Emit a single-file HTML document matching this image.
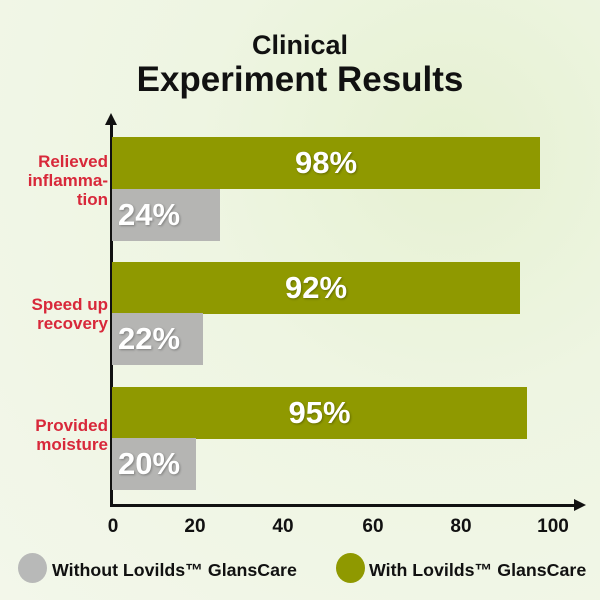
<!DOCTYPE html>
<html><head><style>
body{margin:0;width:600px;height:600px;overflow:hidden;background:radial-gradient(circle at 75% 25%,#e6f1d2 0%,#eef5e2 40%,#f3f7ea 100%);font-family:"Liberation Sans",sans-serif;position:relative}
.a{position:absolute}
.t{left:0;width:600px;text-align:center;font-weight:bold;color:#111}
.bar{position:absolute;left:112px;height:52px;color:#fff;font-weight:bold;font-size:31px;line-height:52px;text-shadow:1px 1px 2px rgba(0,0,0,.3)}
.g{background:#8f9900;text-align:center}
.s{background:#b5b5b3;padding-left:6px;box-sizing:border-box}
.lab{position:absolute;right:492px;text-align:right;color:#d8283a;font-weight:bold;font-size:17px;line-height:19px}
.tk{position:absolute;top:516px;font-weight:bold;font-size:19px;color:#111;transform:translateX(-50%)}
.leg{position:absolute;top:560px;font-weight:bold;font-size:17.8px;color:#111;white-space:nowrap}
.dot{position:absolute;top:553px;width:29px;height:30px;border-radius:50%}
</style></head><body>
<div class="a t" style="top:30px;font-size:27px">Clinical</div>
<div class="a t" style="top:60px;font-size:35px">Experiment Results</div>
<div class="a" style="left:110px;top:124px;width:2.5px;height:382px;background:#111"></div>
<div class="a" style="left:105px;top:113px;width:0;height:0;border-left:6px solid transparent;border-right:6px solid transparent;border-bottom:12px solid #111"></div>
<div class="a" style="left:110px;top:504px;width:468px;height:2.5px;background:#111"></div>
<div class="a" style="left:574px;top:499px;width:0;height:0;border-top:6px solid transparent;border-bottom:6px solid transparent;border-left:12px solid #111"></div>
<div class="bar g" style="top:137px;width:428px">98%</div>
<div class="bar s" style="top:189px;width:108px">24%</div>
<div class="bar g" style="top:262px;width:408px">92%</div>
<div class="bar s" style="top:313px;width:91px">22%</div>
<div class="bar g" style="top:387px;width:415px">95%</div>
<div class="bar s" style="top:438px;width:84px">20%</div>
<div class="lab" style="top:152px">Relieved<br>inflamma-<br>tion</div>
<div class="lab" style="top:295px">Speed up<br>recovery</div>
<div class="lab" style="top:416px">Provided<br>moisture</div>
<div class="tk" style="left:113px">0</div>
<div class="tk" style="left:195px">20</div>
<div class="tk" style="left:283px">40</div>
<div class="tk" style="left:373px">60</div>
<div class="tk" style="left:461px">80</div>
<div class="tk" style="left:553px">100</div>
<div class="dot" style="left:18px;background:#b8b9b8"></div>
<div class="leg" style="left:52px">Without Lovilds™ GlansCare</div>
<div class="dot" style="left:336px;background:#8f9900"></div>
<div class="leg" style="left:369px">With Lovilds™ GlansCare</div>
</body></html>
